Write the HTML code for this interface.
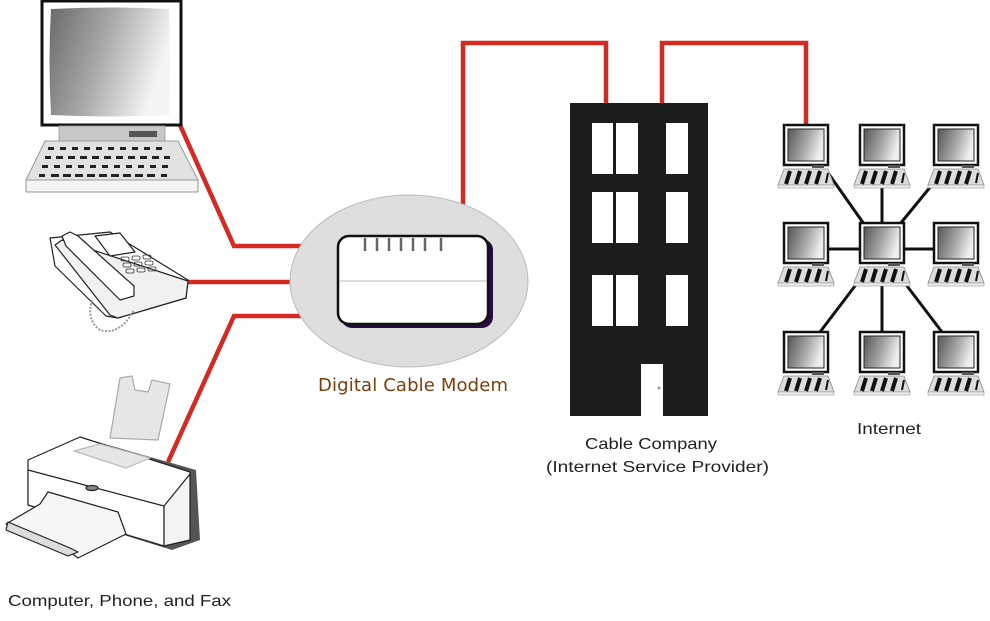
<!DOCTYPE html>
<html><head><meta charset="utf-8"><style>
html,body{margin:0;padding:0;background:#fff;}
svg{display:block;}
text{font-family:"Liberation Sans",sans-serif;}
</style></head><body>
<svg width="990" height="621" viewBox="0 0 990 621" xmlns="http://www.w3.org/2000/svg">
<defs>
<linearGradient id="scr" x1="0" y1="0" x2="1" y2="0.3">
<stop offset="0" stop-color="#6a6a6a"/><stop offset="0.5" stop-color="#a8a8a8"/><stop offset="1" stop-color="#f4f4f4"/>
</linearGradient>
<linearGradient id="mscr" x1="0" y1="0" x2="1" y2="0.3">
<stop offset="0" stop-color="#555"/><stop offset="0.6" stop-color="#aaa"/><stop offset="1" stop-color="#eee"/>
</linearGradient>
<g id="mini">
<rect x="0" y="0" width="44" height="40" fill="#fff" stroke="#111" stroke-width="2.5"/>
<rect x="4" y="4" width="36" height="32" fill="url(#mscr)" stroke="#222" stroke-width="1"/>
<rect x="28" y="40" width="12" height="3" fill="#555"/>
<polygon points="0,44 44,44 50,60 -6,60" fill="#ddd" stroke="#888" stroke-width="0.8"/>
<rect x="-6" y="60" width="56" height="3" fill="#eee" stroke="#999" stroke-width="0.6"/>
<g stroke="#111" stroke-width="4">
<line x1="6" y1="46" x2="2" y2="59"/><line x1="16" y1="46" x2="12" y2="59"/><line x1="26" y1="46" x2="22" y2="59"/><line x1="36" y1="46" x2="32" y2="59"/><line x1="44" y1="48" x2="42" y2="58" stroke-width="2"/>
</g>
</g>
</defs>

<g stroke="#d42a22" stroke-width="4.5" fill="none" stroke-linejoin="miter">
<polyline points="180,125 234,246 338,246"/>
<line x1="188" y1="282" x2="331" y2="282"/>
<polyline points="168,462 234,316 338,316"/>
<polyline points="463,237 463,43 606,43 606,104"/>
<polyline points="662,104 662,43 806,43 806,125"/>
</g>

<ellipse cx="409" cy="281" rx="119" ry="86" fill="#dedede" stroke="#bbb" stroke-width="1"/>
<rect x="341" y="239" width="152" height="89" rx="11" fill="#2a0a40"/>
<rect x="338" y="236" width="150" height="88" rx="11" fill="#fff" stroke="#111" stroke-width="2.5"/>
<line x1="339" y1="281" x2="487" y2="281" stroke="#bbb" stroke-width="1"/>
<g stroke="#666" stroke-width="2.5">
<line x1="365" y1="238" x2="365" y2="251"/><line x1="377" y1="238" x2="377" y2="251"/><line x1="389" y1="238" x2="389" y2="251"/><line x1="401" y1="238" x2="401" y2="251"/><line x1="413" y1="238" x2="413" y2="251"/><line x1="425" y1="238" x2="425" y2="251"/><line x1="441" y1="238" x2="441" y2="251"/>
</g>
<text x="413" y="391" font-size="18" fill="#7a3e0a" text-anchor="middle" style="font-family:'DejaVu Sans','Liberation Sans',sans-serif" textLength="190">Digital Cable Modem</text>

<rect x="570" y="103" width="138" height="313" fill="#1c1c1c"/>
<g fill="#fff">
<rect x="592" y="123" width="21" height="51"/><rect x="616" y="123" width="22" height="51"/><rect x="666" y="123" width="22" height="51"/>
<rect x="592" y="192" width="21" height="51"/><rect x="616" y="192" width="22" height="51"/><rect x="666" y="192" width="22" height="51"/>
<rect x="592" y="275" width="21" height="51"/><rect x="616" y="275" width="22" height="51"/><rect x="666" y="275" width="22" height="51"/>
<rect x="641" y="364" width="22" height="52"/>
</g>
<circle cx="659" cy="388" r="1.5" fill="#999"/>
<text x="585" y="449" font-size="16" fill="#222" textLength="132" lengthAdjust="spacingAndGlyphs">Cable Company</text>
<text x="546" y="472" font-size="16" fill="#222" textLength="223" lengthAdjust="spacingAndGlyphs">(Internet Service Provider)</text>

<g stroke="#111" stroke-width="3">
<line x1="864" y1="224" x2="826" y2="170"/>
<line x1="882" y1="187" x2="882" y2="223"/>
<line x1="900" y1="224" x2="936" y2="180"/>
<line x1="828" y1="249" x2="860" y2="249"/>
<line x1="904" y1="249" x2="934" y2="249"/>
<line x1="858" y1="282" x2="820" y2="332"/>
<line x1="882" y1="282" x2="882" y2="332"/>
<line x1="904" y1="282" x2="942" y2="332"/>
</g>
<use href="#mini" x="784" y="125"/><use href="#mini" x="860" y="125"/><use href="#mini" x="934" y="125"/>
<use href="#mini" x="784" y="223"/><use href="#mini" x="860" y="223"/><use href="#mini" x="934" y="223"/>
<use href="#mini" x="784" y="332"/><use href="#mini" x="860" y="332"/><use href="#mini" x="934" y="332"/>
<text x="857" y="434" font-size="16" fill="#222" textLength="64" lengthAdjust="spacingAndGlyphs">Internet</text>

<rect x="42" y="1" width="139" height="124" fill="#fff" stroke="#111" stroke-width="3"/>
<path d="M51,9 Q110,6 169,9 Q171,62 169,115 Q110,118 51,115 Q48,62 51,9Z" fill="url(#scr)"/>
<rect x="59" y="126" width="106" height="15" fill="#c8c8c8" stroke="#999" stroke-width="0.8"/>
<rect x="129" y="131" width="28" height="6" fill="#555"/>
<polygon points="45,141 178,141 198,180 26,180" fill="#e2e2e2" stroke="#999" stroke-width="1"/>
<rect x="26" y="180" width="172" height="12" fill="#f4f4f4" stroke="#999" stroke-width="1"/>
<g fill="#222">
<g id="r1"><rect x="48" y="147" width="6" height="3"/><rect x="60" y="147" width="6" height="3"/><rect x="72" y="147" width="6" height="3"/><rect x="84" y="147" width="6" height="3"/><rect x="96" y="147" width="6" height="3"/><rect x="108" y="147" width="6" height="3"/><rect x="120" y="147" width="6" height="3"/><rect x="132" y="147" width="6" height="3"/><rect x="144" y="147" width="6" height="3"/><rect x="156" y="147" width="6" height="3"/></g>
<use href="#r1" x="-3" y="9"/><use href="#r1" x="8" y="9"/>
<use href="#r1" x="-6" y="18"/><use href="#r1" x="6" y="18"/>
<use href="#r1" x="-9" y="27"/><use href="#r1" x="5" y="27"/>
</g>

<g stroke="#222" stroke-width="1.2" stroke-linejoin="round">
<polygon points="50,238 110,232 188,280 186,298 118,318 106,316 55,266" fill="#fff"/>
<polygon points="55,245 62,240 188,281 186,298 118,318 110,315" fill="#f1f1f1"/>
<polygon points="95,236 120,233 135,252 110,256" fill="#fff"/>
<polygon points="62,236 70,232 78,236 134,286 134,296 120,300 114,294 66,246" fill="#fff"/>
<path d="M92,300 Q86,320 100,330 Q120,336 134,310" fill="none" stroke="#999" stroke-dasharray="2,1.5" stroke-width="2"/>
</g>
<g fill="none" stroke="#333" stroke-width="0.8">
<rect x="121" y="257" width="8" height="4" rx="1.5"/><rect x="132" y="256" width="8" height="4" rx="1.5"/><rect x="143" y="255" width="8" height="4" rx="1.5"/>
<rect x="123" y="263" width="8" height="4" rx="1.5"/><rect x="134" y="262" width="8" height="4" rx="1.5"/><rect x="145" y="261" width="8" height="4" rx="1.5"/>
<rect x="126" y="269" width="8" height="4" rx="1.5"/><rect x="137" y="268" width="8" height="4" rx="1.5"/><rect x="148" y="267" width="8" height="4" rx="1.5"/>
</g>

<g stroke="#222" stroke-width="1.2" stroke-linejoin="round">
<polygon points="120,378 132,376 135,390 148,392 152,380 170,384 158,440 110,438" fill="#e6e6e6" stroke="#aaa"/>
<polygon points="28,460 80,437 196,470 200,540 172,550 28,505" fill="#555" stroke="none"/>
<polygon points="28,460 80,437 190,472 190,540 164,546 28,505" fill="#fff"/>
<polygon points="28,470 164,506 164,546 28,505" fill="#fff"/>
<polygon points="164,506 190,474 190,540 164,546" fill="#f4f4f4"/>
<polygon points="74,451 100,444 150,458 126,468" fill="#e6e6e6" stroke="#bbb"/>
<ellipse cx="92" cy="488" rx="6" ry="2.5" fill="#888"/>
<polygon points="48,492 62,496 118,512 126,534 78,558 70,552 6,524 40,504" fill="#f6f6f6"/>
<polygon points="8,522 70,548 78,552 68,556 6,530" fill="#ddd"/>
</g>
<text x="8" y="606" font-size="16" fill="#222" textLength="223" lengthAdjust="spacingAndGlyphs">Computer, Phone, and Fax</text>
</svg>
</body></html>
